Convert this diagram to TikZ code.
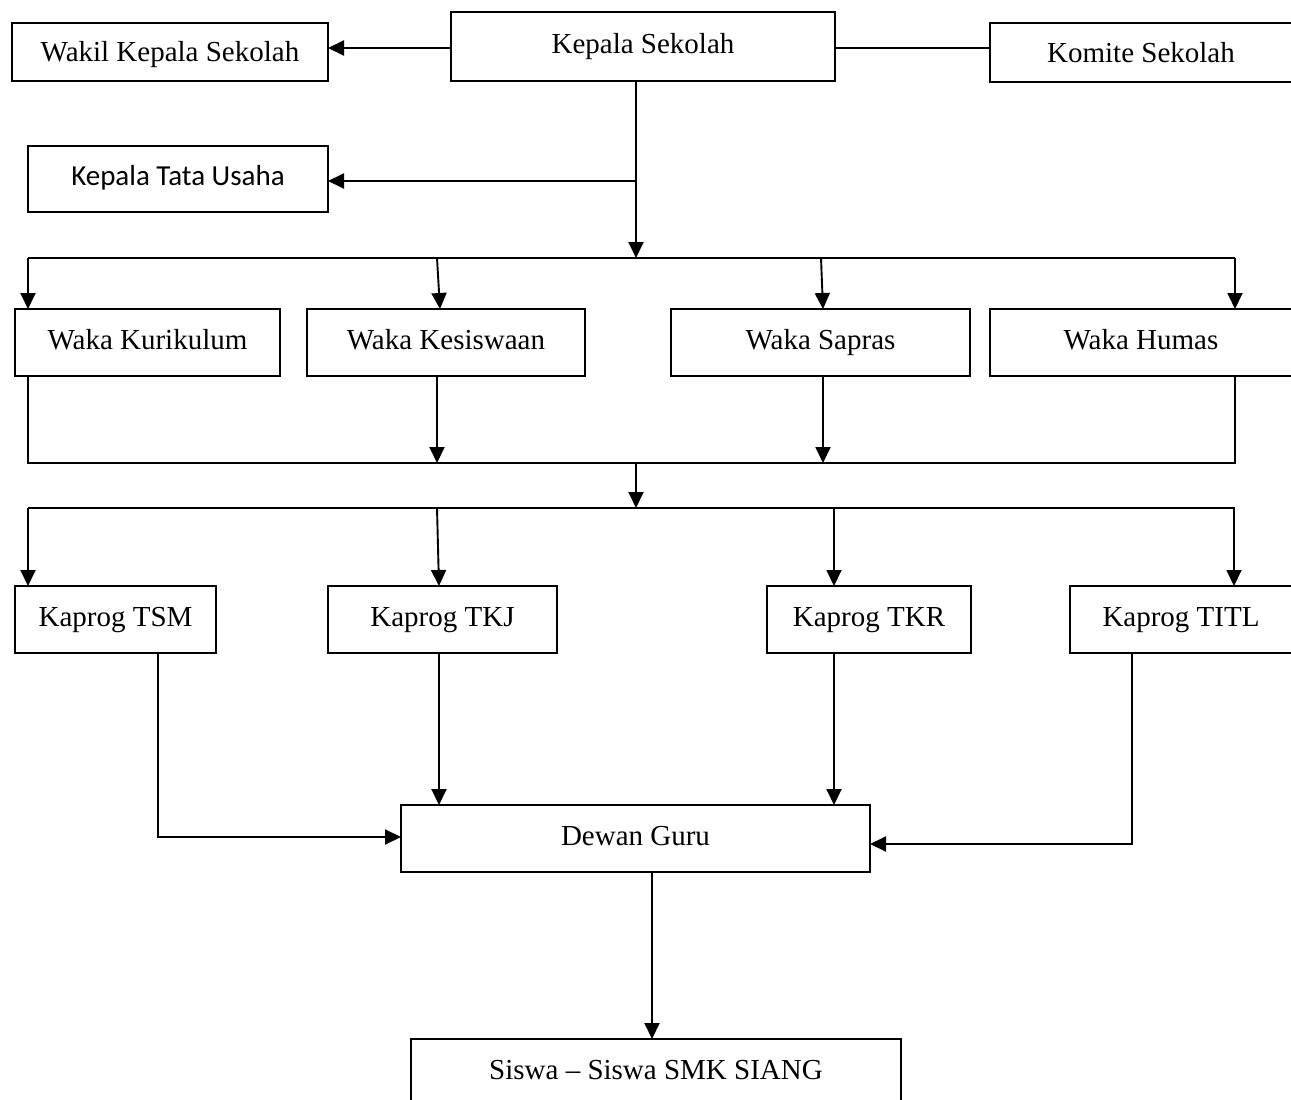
\documentclass[tikz,border=0pt]{standalone}
\usepackage{fontspec}
\setmainfont{Liberation Serif}
\newfontfamily\calibrifont{Carlito}
\usetikzlibrary{arrows.meta}

\tikzset{
  orgbox/.style={draw, line width=1.9pt, rectangle, outer sep=0pt, inner sep=0pt,
    font=\fontsize{29}{34}\selectfont, text height=20pt, text depth=7pt},
  conn/.style={line width=1.9pt},
  arr/.style={conn, -{Triangle[length=16pt,width=15pt]}}
}

\begin{document}
\begin{tikzpicture}[x=1pt,y=-1pt]
\useasboundingbox (0,0) rectangle (1291,1100);
\clip (0,0) rectangle (1291,1100);

% top level
\node[orgbox, minimum width=384pt, minimum height=69pt] (kepala) at (643,46.5) {Kepala Sekolah};
\node[orgbox, minimum width=316pt, minimum height=58pt, text depth=1pt] (wakil) at (170,52) {Wakil Kepala Sekolah};
\node[orgbox, minimum width=302pt, minimum height=59pt, text depth=1pt] (komite) at (1141,52.5) {Komite Sekolah};
\node[orgbox, minimum width=300pt, minimum height=66pt, font=\calibrifont\fontsize{29}{34}\selectfont] (ktu) at (178,179) {Kepala Tata Usaha};

% vice principals
\node[orgbox, minimum width=265pt, minimum height=67pt] (kur) at (147.5,342.5) {Waka Kurikulum};
\node[orgbox, minimum width=278pt, minimum height=67pt] (kes) at (446,342.5) {Waka Kesiswaan};
\node[orgbox, minimum width=299pt, minimum height=67pt] (sap) at (820.5,342.5) {Waka Sapras};
\node[orgbox, minimum width=302pt, minimum height=67pt] (hum) at (1141,342.5) {Waka Humas};

% programme heads
\node[orgbox, minimum width=201pt, minimum height=67pt] (tsm) at (115.5,619.5) {Kaprog TSM};
\node[orgbox, minimum width=229pt, minimum height=67pt] (tkj) at (442.5,619.5) {Kaprog TKJ};
\node[orgbox, minimum width=204pt, minimum height=67pt] (tkr) at (869,619.5) {Kaprog TKR};
\node[orgbox, minimum width=222pt, minimum height=67pt] (titl) at (1181,619.5) {Kaprog TITL};

% teachers and students
\node[orgbox, minimum width=469pt, minimum height=67pt] (dewan) at (635.5,838.5) {Dewan Guru};
\node[orgbox, minimum width=490pt, minimum height=67pt] (siswa) at (656,1072.5) {Siswa -- Siswa SMK SIANG};

% junction points
\coordinate (kl) at (0,48);
\coordinate (trunk) at (636,0);
\coordinate (ktuj) at (636,181);
\coordinate (b1L) at (28,258);
\coordinate (b1M) at (636,258);
\coordinate (b1R) at (1235,258);
\coordinate (b1kes) at (437,258);
\coordinate (b1sap) at (821,258);
\coordinate (kesin) at (440,0);
\coordinate (sapin) at (823,0);
\coordinate (b2L) at (28,463);
\coordinate (b2M) at (636,463);
\coordinate (b2R) at (1235,463);
\coordinate (b2kes) at (437,463);
\coordinate (b2sap) at (823,463);
\coordinate (b3L) at (28,508);
\coordinate (b3R) at (1235,508);
\coordinate (b3tkj) at (437,508);
\coordinate (b3tkr) at (834,508);
\coordinate (b3titl) at (1234,508);
\coordinate (tkjin) at (439,0);
\coordinate (tsmx) at (158,0);
\coordinate (tsmj) at (158,837);
\coordinate (titlx) at (1132,0);
\coordinate (titlj) at (1132,844);
\coordinate (dgx) at (652,0);

% head to deputy and committee
\draw[arr] (kepala.west |- kl) -- (wakil.east |- kl);
\draw[conn] (kepala.east |- kl) -- (komite.west |- kl);

% main trunk
\draw[arr] (kepala.south -| trunk) -- (b1M);
\draw[arr] (ktuj) -- (ktu.east |- ktuj);

% first distribution bus
\draw[conn] (b1L) -- (b1R);
\draw[arr] (b1L) -- (kur.north -| b1L);
\draw[arr] (b1kes) -- (kes.north -| kesin);
\draw[arr] (b1sap) -- (sap.north -| sapin);
\draw[arr] (b1R) -- (hum.north -| b1R);

% collecting bus
\draw[conn] (kur.south -| b2L) -- (b2L) -- (b2R) -- (hum.south -| b2R);
\draw[arr] (kes.south -| b2kes) -- (b2kes);
\draw[arr] (sap.south -| b2sap) -- (b2sap);
\draw[arr] (b2M) -- (b2M |- b3L);

% second distribution bus
\draw[conn] (b3L) -- (b3R);
\draw[arr] (b3L) -- (tsm.north -| b3L);
\draw[arr] (b3tkj) -- (tkj.north -| tkjin);
\draw[arr] (b3tkr) -- (tkr.north -| b3tkr);
\draw[arr] (b3titl) -- (titl.north -| b3titl);

% programme heads to teachers
\draw[arr] (tsm.south -| tsmx) -- (tsmj) -- (dewan.west |- tsmj);
\draw[arr] (tkj.south -| tkjin) -- (dewan.north -| tkjin);
\draw[arr] (tkr.south -| b3tkr) -- (dewan.north -| b3tkr);
\draw[arr] (titl.south -| titlx) -- (titlj) -- (dewan.east |- titlj);

% teachers to students
\draw[arr] (dewan.south -| dgx) -- (siswa.north -| dgx);
\end{tikzpicture}
\end{document}
